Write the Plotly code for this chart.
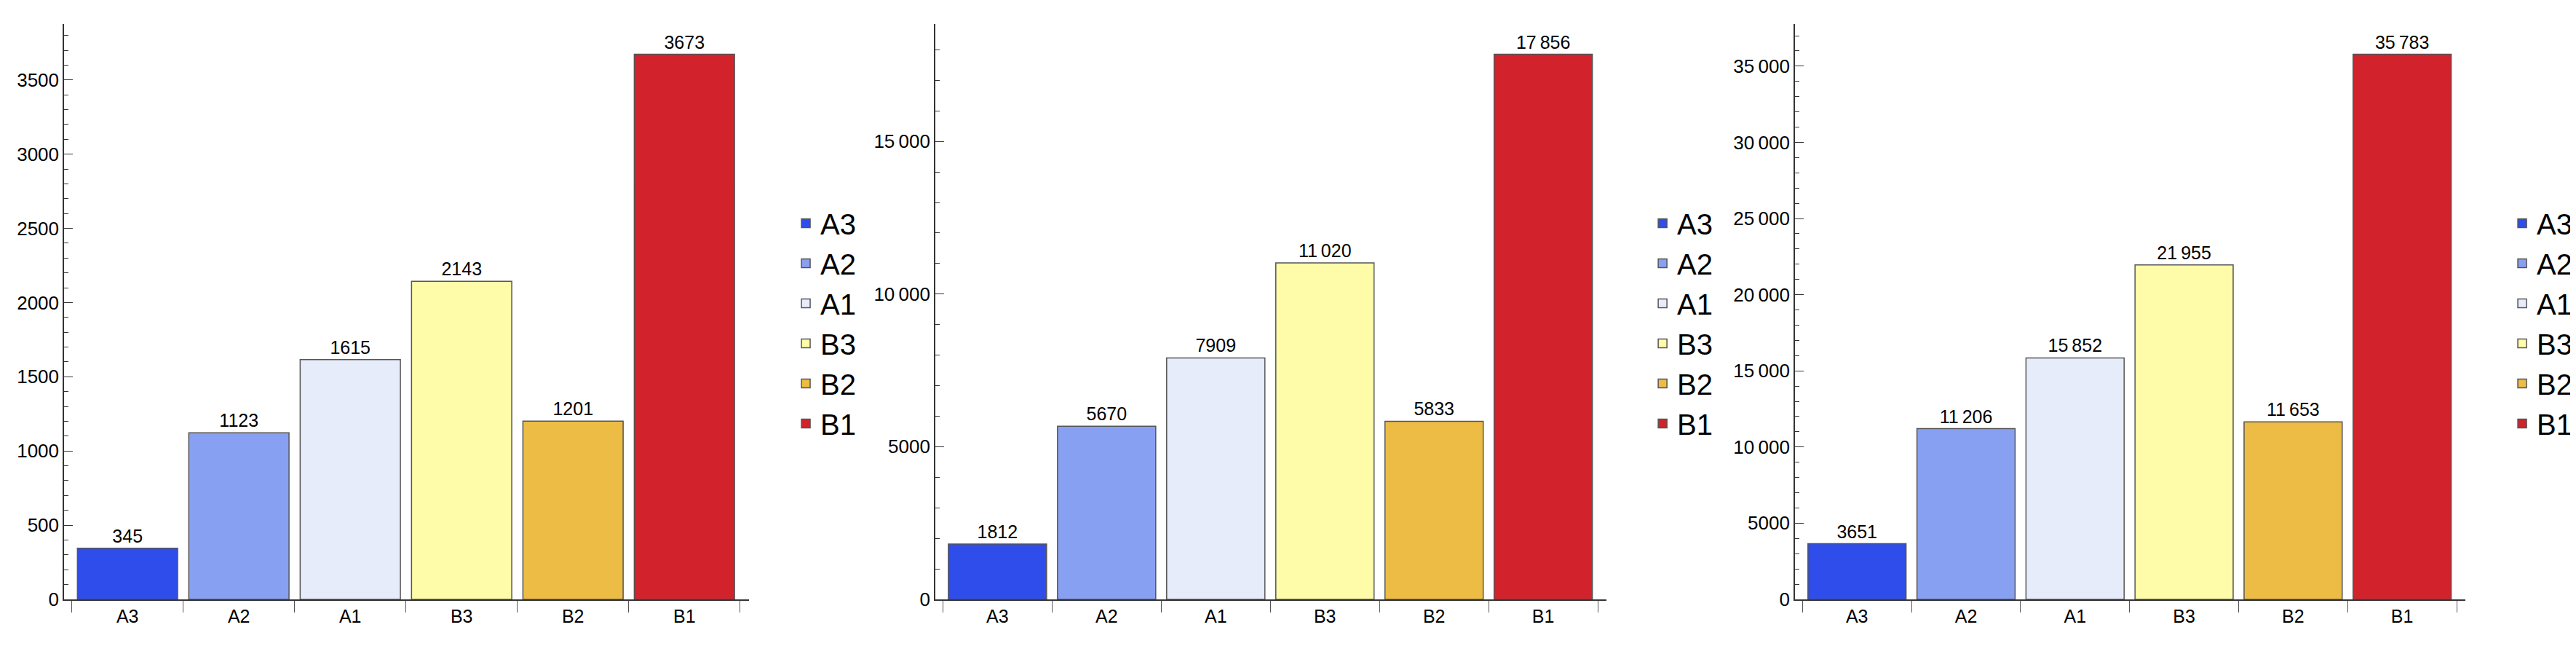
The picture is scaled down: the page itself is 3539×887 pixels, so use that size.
import plotly.graph_objects as go

categories = ["A3", "A2", "A1", "B3", "B2", "B1"]
values_1 = [345, 1123, 1615, 2143, 1201, 3673]
values_2 = [1812, 5670, 7909, 11020, 5833, 17856]
values_3 = [3651, 11206, 15852, 21955, 11653, 35783]
colors = ["#2E4DEB", "#88A0F2", "#E6ECFA", "#FEFCA8", "#ECBC44", "#D2222B"]
tick_vals_1 = [0, 500, 1000, 1500, 2000, 2500, 3000, 3500]
tick_vals_2 = [0, 5000, 10000, 15000]
tick_vals_3 = [0, 5000, 10000, 15000, 20000, 25000, 30000, 35000]

FONT = "Liberation Sans Narrow, Arial Narrow, Liberation Sans, sans-serif"


def fmt(v):
    s = str(v)
    if len(s) >= 5:
        return s[:-3] + "\u2009" + s[-3:]
    return s


panels = [
    (values_1, tick_vals_1, 100, [0.0226, 0.2885], 0.3049),
    (values_2, tick_vals_2, 1000, [0.3608, 0.6214], 0.6375),
    (values_3, tick_vals_3, 1000, [0.6945, 0.9548], 0.9712),
]

fig = go.Figure()
for i, (vals, tvals, minor, dom, lx) in enumerate(panels):
    n = i + 1
    xa = "x" if n == 1 else f"x{n}"
    ya = "y" if n == 1 else f"y{n}"
    lg = "legend" if n == 1 else f"legend{n}"
    for c, v, col in zip(categories, vals, colors):
        fig.add_trace(go.Bar(
            x=[c], y=[v], name=c, xaxis=xa, yaxis=ya, legend=lg,
            marker=dict(color=col, line=dict(color="#555555", width=1.5)),
            text=[fmt(v)], textposition="outside", cliponaxis=False,
            textfont=dict(family=FONT, size=25, color="black"),
            width=0.9,
        ))
    top = max(vals) * 1.056
    sfx = "" if n == 1 else str(n)
    fig.layout["xaxis" + sfx] = dict(
        domain=dom, anchor=ya, type="category", categoryorder="array",
        categoryarray=categories, range=[-0.57, 5.58],
        showline=True, linecolor="#333", linewidth=1.5,
        ticks="outside", tickson="boundaries", ticklen=16, tickcolor="#555",
        tickfont=dict(family=FONT, size=25, color="black"), showgrid=False,
    )
    fig.layout["yaxis" + sfx] = dict(
        domain=[0.0654, 0.9718], anchor=xa, range=[0, top],
        showline=True, linecolor="#333", linewidth=1.5,
        tickvals=tvals, ticktext=[fmt(t) for t in tvals],
        ticks="inside", ticklen=12, tickcolor="#333",
        minor=dict(dtick=minor, ticks="inside", ticklen=6, tickcolor="#333"),
        tickfont=dict(family=FONT, size=26, color="black"),
        showgrid=False, zeroline=False,
    )
    fig.layout[lg] = dict(
        x=lx, y=0.5, xanchor="left", yanchor="middle",
        font=dict(family=FONT, size=40, color="black"),
        tracegroupgap=0, bgcolor="rgba(0,0,0,0)",
    )

fig.update_layout(
    width=3539, height=887, barmode="overlay",
    margin=dict(l=0, r=0, t=0, b=0),
    plot_bgcolor="white", paper_bgcolor="white",
    font=dict(family=FONT),
)
fig.write_html("out.html")
